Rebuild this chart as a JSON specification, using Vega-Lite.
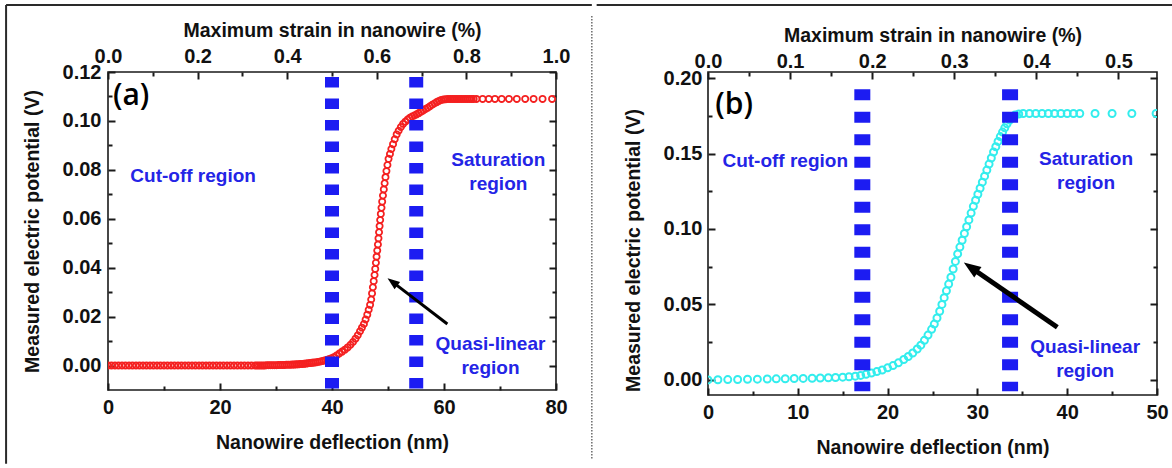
{
  "$schema": "https://vega.github.io/schema/vega-lite/v6.json",
  "background": "white",
  "padding": {"left": 4, "top": 3, "right": 0, "bottom": 0},
  "spacing": 0,
  "config": {
    "font": "Liberation Sans",
    "view": {"stroke": "#1a1a1a", "strokeWidth": 1.6},
    "axis": {
      "labelFont": "Liberation Sans", "labelFontWeight": "bold", "labelFontSize": 20, "labelColor": "#111111",
      "titleFont": "Liberation Sans", "titleFontWeight": "bold", "titleFontSize": 19.5, "titleColor": "#111111",
      "domain": false, "grid": false, "tickColor": "#1a1a1a", "tickWidth": 2, "tickSize": 7, "offset": -7,
      "labelFlush": false, "labelOverlap": false
    },
    "text": {"font": "Liberation Sans"}
  },
  "datasets": {
    "curveA": [
      {"defl":0,"volt":0},{"defl":0.62,"volt":0},{"defl":1.25,"volt":0},{"defl":1.87,"volt":0},{"defl":2.5,"volt":0},{"defl":3.12,"volt":0},{"defl":3.75,"volt":0},{"defl":4.37,"volt":0},{"defl":5,"volt":0},{"defl":5.62,"volt":0},{"defl":6.25,"volt":0},{"defl":6.87,"volt":0},{"defl":7.5,"volt":0},{"defl":8.12,"volt":0},{"defl":8.75,"volt":0},{"defl":9.37,"volt":0},{"defl":10,"volt":0},{"defl":10.62,"volt":0},{"defl":11.25,"volt":0},{"defl":11.87,"volt":0},{"defl":12.5,"volt":0},{"defl":13.12,"volt":0},{"defl":13.75,"volt":0},{"defl":14.37,"volt":0},{"defl":15,"volt":0},{"defl":15.62,"volt":0},{"defl":16.25,"volt":0},{"defl":16.87,"volt":0},{"defl":17.5,"volt":0},{"defl":18.12,"volt":0},{"defl":18.75,"volt":0},{"defl":19.37,"volt":0},{"defl":20,"volt":0},{"defl":20.62,"volt":0},{"defl":21.25,"volt":0},{"defl":21.87,"volt":0},{"defl":22.5,"volt":0},{"defl":23.12,"volt":0},{"defl":23.75,"volt":0},{"defl":24.37,"volt":0},{"defl":25,"volt":0},{"defl":25.62,"volt":0},{"defl":26.25,"volt":0},
      {"defl":26.6,"volt":0},{"defl":26.95,"volt":0},{"defl":27.3,"volt":0},{"defl":27.65,"volt":0},{"defl":28,"volt":0},{"defl":28.35,"volt":0.0001},{"defl":28.7,"volt":0.0001},{"defl":29.05,"volt":0.0001},{"defl":29.4,"volt":0.0001},{"defl":29.75,"volt":0.0001},{"defl":30.1,"volt":0.0001},{"defl":30.45,"volt":0.0002},{"defl":30.8,"volt":0.0002},{"defl":31.15,"volt":0.0002},{"defl":31.5,"volt":0.0002},{"defl":31.85,"volt":0.0003},{"defl":32.2,"volt":0.0003},{"defl":32.55,"volt":0.0003},{"defl":32.9,"volt":0.0004},{"defl":33.25,"volt":0.0004},{"defl":33.6,"volt":0.0005},{"defl":33.95,"volt":0.0005},{"defl":34.3,"volt":0.0006},{"defl":34.65,"volt":0.0006},{"defl":35,"volt":0.0007},{"defl":35.35,"volt":0.0008},{"defl":35.7,"volt":0.0009},{"defl":36.05,"volt":0.001},{"defl":36.4,"volt":0.0011},{"defl":36.75,"volt":0.0012},{"defl":37.1,"volt":0.0013},{"defl":37.45,"volt":0.0015},{"defl":37.8,"volt":0.0016},{"defl":38.15,"volt":0.0018},{"defl":38.5,"volt":0.002},{"defl":38.85,"volt":0.0022},{"defl":39.2,"volt":0.0024},{"defl":39.55,"volt":0.0027},{"defl":39.9,"volt":0.003},
      {"defl":40.3,"volt":0.0034},{"defl":40.8,"volt":0.0041},{"defl":41.3,"volt":0.0049},{"defl":41.8,"volt":0.0057},{"defl":42.3,"volt":0.0065},{"defl":42.8,"volt":0.0074},{"defl":43.3,"volt":0.0085},{"defl":43.75,"volt":0.0096},{"defl":44.2,"volt":0.011},{"defl":44.6,"volt":0.0124},{"defl":45,"volt":0.014},{"defl":45.35,"volt":0.0155},{"defl":45.7,"volt":0.017},{"defl":46,"volt":0.0188},{"defl":46.3,"volt":0.0208},{"defl":46.55,"volt":0.0228},{"defl":46.8,"volt":0.0248},
      {"defl":47,"volt":0.027},{"defl":47.15,"volt":0.0295},{"defl":47.3,"volt":0.032},{"defl":47.45,"volt":0.0345},{"defl":47.6,"volt":0.037},{"defl":47.72,"volt":0.0395},{"defl":47.84,"volt":0.042},{"defl":47.96,"volt":0.0445},{"defl":48.08,"volt":0.047},{"defl":48.2,"volt":0.0495},{"defl":48.3,"volt":0.052},{"defl":48.4,"volt":0.0545},{"defl":48.5,"volt":0.057},{"defl":48.6,"volt":0.0595},{"defl":48.72,"volt":0.062},{"defl":48.84,"volt":0.0645},{"defl":48.96,"volt":0.067},{"defl":49.1,"volt":0.0695},{"defl":49.25,"volt":0.072},{"defl":49.4,"volt":0.0745},{"defl":49.55,"volt":0.077},{"defl":49.72,"volt":0.0795},{"defl":49.9,"volt":0.082},{"defl":50.1,"volt":0.0845},{"defl":50.35,"volt":0.0865},{"defl":50.6,"volt":0.0885},{"defl":50.9,"volt":0.0905},{"defl":51.2,"volt":0.0925},{"defl":51.55,"volt":0.0945},{"defl":51.9,"volt":0.096},{"defl":52.3,"volt":0.0975},
      {"defl":52.7,"volt":0.0988},{"defl":53.1,"volt":0.0997},{"defl":53.5,"volt":0.1006},{"defl":53.9,"volt":0.1013},{"defl":54.3,"volt":0.1018},{"defl":54.7,"volt":0.1022},{"defl":55.1,"volt":0.1027},{"defl":55.5,"volt":0.1032},{"defl":55.9,"volt":0.1038},{"defl":56.3,"volt":0.1043},{"defl":56.7,"volt":0.1049},{"defl":57.1,"volt":0.1054},{"defl":57.5,"volt":0.106},{"defl":57.9,"volt":0.1066},{"defl":58.3,"volt":0.1071},{"defl":58.7,"volt":0.1077},{"defl":59.1,"volt":0.1082},{"defl":59.5,"volt":0.1086},{"defl":59.9,"volt":0.1088},{"defl":60.3,"volt":0.1089},{"defl":60.7,"volt":0.109},
      {"defl":61.1,"volt":0.109},{"defl":61.45,"volt":0.109},{"defl":61.8,"volt":0.109},{"defl":62.15,"volt":0.109},{"defl":62.5,"volt":0.109},{"defl":62.85,"volt":0.109},{"defl":63.2,"volt":0.109},{"defl":63.55,"volt":0.109},{"defl":63.9,"volt":0.109},{"defl":64.25,"volt":0.109},{"defl":64.6,"volt":0.109},{"defl":64.95,"volt":0.109},{"defl":65.3,"volt":0.109},
      {"defl":65.8,"volt":0.109},{"defl":66.9,"volt":0.109},{"defl":68,"volt":0.109},{"defl":69.1,"volt":0.109},{"defl":70.3,"volt":0.109},{"defl":71.6,"volt":0.109},{"defl":73,"volt":0.109},{"defl":74.5,"volt":0.109},{"defl":76,"volt":0.109},{"defl":77.6,"volt":0.109},{"defl":79.3,"volt":0.109}
    ],
    "curveB": [
      {"defl":0,"volt":0},{"defl":1.1,"volt":0.0001},{"defl":2.2,"volt":0.0002},{"defl":3.3,"volt":0.0003},{"defl":4.4,"volt":0.0004},{"defl":5.5,"volt":0.0005},{"defl":6.6,"volt":0.0006},{"defl":7.6,"volt":0.0007},{"defl":8.6,"volt":0.0008},{"defl":9.6,"volt":0.0009},{"defl":10.6,"volt":0.001},{"defl":11.6,"volt":0.0011},{"defl":12.5,"volt":0.0013},{"defl":13.4,"volt":0.0014},{"defl":14.2,"volt":0.0016},{"defl":15,"volt":0.0018},{"defl":15.7,"volt":0.0021},{"defl":16.4,"volt":0.0025},
      {"defl":17,"volt":0.003},{"defl":17.6,"volt":0.0037},{"defl":18.2,"volt":0.0045},{"defl":18.8,"volt":0.0055},{"defl":19.4,"volt":0.0066},{"defl":20,"volt":0.008},{"defl":20.6,"volt":0.0095},{"defl":21.2,"volt":0.0113},{"defl":21.8,"volt":0.0135},{"defl":22.3,"volt":0.0155},{"defl":22.8,"volt":0.0178},{"defl":23.3,"volt":0.0205},{"defl":23.7,"volt":0.023},{"defl":24.1,"volt":0.0262},{"defl":24.5,"volt":0.0297},{"defl":24.9,"volt":0.0335},{"defl":25.2,"volt":0.037},{"defl":25.5,"volt":0.041},{"defl":25.8,"volt":0.0455},{"defl":26.05,"volt":0.05},{"defl":26.3,"volt":0.0545},{"defl":26.55,"volt":0.059},{"defl":26.8,"volt":0.0635},{"defl":27.05,"volt":0.068},{"defl":27.3,"volt":0.0735},{"defl":27.55,"volt":0.0785},{"defl":27.8,"volt":0.0835},{"defl":28.05,"volt":0.088},{"defl":28.3,"volt":0.0925},{"defl":28.55,"volt":0.097},{"defl":28.8,"volt":0.1015},{"defl":29.05,"volt":0.106},{"defl":29.3,"volt":0.1105},{"defl":29.55,"volt":0.115},{"defl":29.8,"volt":0.119},{"defl":30.05,"volt":0.123},{"defl":30.3,"volt":0.127},{"defl":30.55,"volt":0.131},{"defl":30.8,"volt":0.135},{"defl":31.05,"volt":0.139},{"defl":31.3,"volt":0.143},{"defl":31.55,"volt":0.147},{"defl":31.8,"volt":0.151},{"defl":32.05,"volt":0.1545},{"defl":32.3,"volt":0.158},{"defl":32.55,"volt":0.1612},{"defl":32.8,"volt":0.1642},{"defl":33.05,"volt":0.167},{"defl":33.3,"volt":0.1697},{"defl":33.6,"volt":0.1722},{"defl":33.9,"volt":0.1742},{"defl":34.2,"volt":0.1755},{"defl":34.6,"volt":0.1762},
      {"defl":35.1,"volt":0.1765},{"defl":35.8,"volt":0.1765},{"defl":36.5,"volt":0.1765},{"defl":37.2,"volt":0.1765},{"defl":37.9,"volt":0.1765},{"defl":38.6,"volt":0.1765},{"defl":39.3,"volt":0.1765},{"defl":40,"volt":0.1765},{"defl":40.7,"volt":0.1765},{"defl":41.4,"volt":0.1765},{"defl":43.1,"volt":0.1765},{"defl":45,"volt":0.1765},{"defl":47.2,"volt":0.1765},{"defl":49.9,"volt":0.1765}
    ],
    "rulesA": [{"strain":0.5,"top":0.118,"bottom":-0.01},{"strain":0.688,"top":0.118,"bottom":-0.01}],
    "rulesB": [{"strain":0.188,"top":0.1925,"bottom":-0.0075},{"strain":0.368,"top":0.1925,"bottom":-0.0075}],
    "notesA": [
      {"defl":15.2,"volt":0.0752,"note":"Cut-off region"},
      {"defl":69.7,"volt":0.0816,"note":"Saturation\nregion"},
      {"defl":68.3,"volt":0.0064,"note":"Quasi-linear\nregion"}
    ],
    "notesB": [
      {"defl":8.6,"volt":0.141,"note":"Cut-off region"},
      {"defl":42.1,"volt":0.1424,"note":"Saturation\nregion"},
      {"defl":42.0,"volt":0.0179,"note":"Quasi-linear\nregion"}
    ],
    "tagA": [{"strain":0.011,"volt":0.1065,"tag":"(a)"}],
    "tagB": [{"strain":0.0088,"volt":0.176,"tag":"(b)"}],
    "arrowA": [{"x1":60.6,"y1":0.017,"x2":50.79,"y2":0.0342}],
    "arrowB": [{"x1":38.9,"y1":0.0349,"x2":29.27,"y2":0.0745}],
    "borderA": [
      {"x1":-18.2,"x2":-18.2,"y1":0.1474,"y2":-0.0402},
      {"x1":-18.2,"x2":86.4,"y1":0.1474,"y2":0.1474}
    ],
    "dividerA": [{"x1":86.4,"x2":86.4,"y1":0.1429,"y2":-0.0381}],
    "borderB": [{"x1":-12.4,"x2":51.7,"y1":0.2484,"y2":0.2484}]
  },
  "hconcat": [
    {
      "width": 448, "height": 318,
      "resolve": {"scale": {"x": "independent"}, "axis": {"x": "independent", "y": "independent"}},
      "layer": [
        {
          "data": {"name": "curveA"},
          "mark": {"type": "point", "shape": "circle", "filled": false, "stroke": "#f42020", "strokeWidth": 1.8, "size": 38, "opacity": 1, "clip": true},
          "encoding": {
            "x": {"field": "defl", "type": "quantitative", "scale": {"domain": [0, 80], "nice": false, "zero": false},
              "axis": {"orient": "bottom", "title": "Nanowire deflection (nm)", "values": [0,20,40,60,80], "labelPadding": 7, "titlePadding": 16}},
            "y": {"field": "volt", "type": "quantitative", "scale": {"domain": [-0.01, 0.12], "nice": false, "zero": false},
              "axis": {"orient": "left", "title": "Measured electric potential (V)", "values": [0,0.02,0.04,0.06,0.08,0.1,0.12], "format": ".2f", "labelPadding": 7, "titlePadding": 20}}
          }
        },
        {
          "data": {"name": "rulesA"},
          "mark": {"type": "rule", "stroke": "#1c1cf2", "strokeWidth": 14, "strokeDash": [10.7, 10.8]},
          "encoding": {
            "x": {"field": "strain", "type": "quantitative", "scale": {"domain": [0, 1], "nice": false, "zero": false},
              "axis": {"orient": "top", "title": "Maximum strain in nanowire (%)", "values": [0,0.2,0.4,0.6,0.8,1], "format": ".1f", "labelPadding": 6, "titlePadding": 6}},
            "y": {"field": "top", "type": "quantitative", "scale": {"domain": [-0.01, 0.12], "nice": false, "zero": false},
              "axis": {"orient": "right", "labels": false, "title": null, "values": [0,0.02,0.04,0.06,0.08,0.1,0.12]}},
            "y2": {"field": "bottom"}
          }
        },
        {
          "data": {"name": "notesA"},
          "mark": {"type": "text", "align": "center", "baseline": "alphabetic", "fontSize": 19, "fontWeight": "bold", "color": "#2424e6", "lineBreak": "\n", "lineHeight": 24},
          "encoding": {
            "x": {"field": "defl", "type": "quantitative", "scale": {"domain": [0, 80], "nice": false, "zero": false},
              "axis": {"orient": "bottom", "labels": false, "title": null, "values": [10,30,50,70], "tickSize": 4, "offset": -4}},
            "y": {"field": "volt", "type": "quantitative", "scale": {"domain": [-0.01, 0.12], "nice": false, "zero": false},
              "axis": {"orient": "left", "labels": false, "title": null, "values": [0.01,0.03,0.05,0.07,0.09,0.11], "tickSize": 4, "offset": -4}},
            "text": {"field": "note"}
          }
        },
        {
          "data": {"name": "tagA"},
          "mark": {"type": "text", "align": "left", "baseline": "alphabetic", "fontSize": 30, "fontWeight": 600, "font": "Open Sans", "color": "#000000"},
          "encoding": {
            "x": {"field": "strain", "type": "quantitative", "scale": {"domain": [0, 1], "nice": false, "zero": false},
              "axis": {"orient": "top", "labels": false, "title": null, "values": [0.1,0.3,0.5,0.7,0.9], "tickSize": 4, "offset": -4}},
            "y": {"field": "volt", "type": "quantitative", "scale": {"domain": [-0.01, 0.12], "nice": false, "zero": false},
              "axis": {"orient": "right", "labels": false, "title": null, "values": [0.01,0.03,0.05,0.07,0.09,0.11], "tickSize": 4, "offset": -4}},
            "text": {"field": "tag"}
          }
        },
        {
          "data": {"name": "arrowA"},
          "mark": {"type": "rule", "stroke": "#000000", "strokeWidth": 3},
          "encoding": {
            "x": {"field": "x1", "type": "quantitative", "scale": {"domain": [0, 80], "nice": false, "zero": false}, "axis": null},
            "y": {"field": "y1", "type": "quantitative", "scale": {"domain": [-0.01, 0.12], "nice": false, "zero": false}, "axis": null},
            "x2": {"field": "x2"},
            "y2": {"field": "y2"}
          }
        },
        {
          "data": {"name": "arrowA"},
          "mark": {"type": "point", "shape": "M0,-1L-0.75,1L0.75,1Z", "filled": true, "fill": "#000000", "stroke": null, "size": 150, "angle": 307, "opacity": 1},
          "encoding": {
            "x": {"field": "x2", "type": "quantitative", "scale": {"domain": [0, 80], "nice": false, "zero": false}, "axis": null},
            "y": {"field": "y2", "type": "quantitative", "scale": {"domain": [-0.01, 0.12], "nice": false, "zero": false}, "axis": null}
          }
        },
        {
          "data": {"name": "borderA"},
          "mark": {"type": "rule", "stroke": "#2a2a2a", "strokeWidth": 2, "clip": false},
          "encoding": {
            "x": {"field": "x1", "type": "quantitative", "scale": {"domain": [0, 80], "nice": false, "zero": false}, "axis": null},
            "y": {"field": "y1", "type": "quantitative", "scale": {"domain": [-0.01, 0.12], "nice": false, "zero": false}, "axis": null},
            "x2": {"field": "x2"},
            "y2": {"field": "y2"}
          }
        },
        {
          "data": {"name": "dividerA"},
          "mark": {"type": "rule", "stroke": "#555555", "strokeWidth": 1.3, "strokeDash": [1.5, 1.5], "clip": false},
          "encoding": {
            "x": {"field": "x1", "type": "quantitative", "scale": {"domain": [0, 80], "nice": false, "zero": false}, "axis": null},
            "y": {"field": "y1", "type": "quantitative", "scale": {"domain": [-0.01, 0.12], "nice": false, "zero": false}, "axis": null},
            "x2": {"field": "x2"},
            "y2": {"field": "y2"}
          }
        }
      ]
    },
    {
      "width": 449, "height": 323,
      "resolve": {"scale": {"x": "independent"}, "axis": {"x": "independent", "y": "independent"}},
      "layer": [
        {
          "data": {"name": "curveB"},
          "mark": {"type": "point", "shape": "circle", "filled": false, "stroke": "#33eded", "strokeWidth": 2, "size": 49, "opacity": 1, "clip": true},
          "encoding": {
            "x": {"field": "defl", "type": "quantitative", "scale": {"domain": [0, 50], "nice": false, "zero": false},
              "axis": {"orient": "bottom", "title": "Nanowire deflection (nm)", "values": [0,10,20,30,40,50], "labelPadding": 7, "titlePadding": 16}},
            "y": {"field": "volt", "type": "quantitative", "scale": {"domain": [-0.01, 0.204], "nice": false, "zero": false},
              "axis": {"orient": "left", "title": "Measured electric potential (V)", "values": [0,0.05,0.1,0.15,0.2], "format": ".2f", "labelPadding": 6, "titlePadding": 20, "titleY": 178}}
          }
        },
        {
          "data": {"name": "rulesB"},
          "mark": {"type": "rule", "stroke": "#1c1cf2", "strokeWidth": 16, "strokeDash": [11, 11.5]},
          "encoding": {
            "x": {"field": "strain", "type": "quantitative", "scale": {"domain": [0, 0.547], "nice": false, "zero": false},
              "axis": {"orient": "top", "title": "Maximum strain in nanowire (%)", "values": [0,0.1,0.2,0.3,0.4,0.5], "format": ".1f", "labelPadding": 1, "titlePadding": 6}},
            "y": {"field": "top", "type": "quantitative", "scale": {"domain": [-0.01, 0.204], "nice": false, "zero": false},
              "axis": {"orient": "right", "labels": false, "title": null, "values": [0,0.05,0.1,0.15,0.2]}},
            "y2": {"field": "bottom"}
          }
        },
        {
          "data": {"name": "notesB"},
          "mark": {"type": "text", "align": "center", "baseline": "alphabetic", "fontSize": 19, "fontWeight": "bold", "color": "#2424e6", "lineBreak": "\n", "lineHeight": 24.5},
          "encoding": {
            "x": {"field": "defl", "type": "quantitative", "scale": {"domain": [0, 50], "nice": false, "zero": false},
              "axis": {"orient": "bottom", "labels": false, "title": null, "values": [5,15,25,35,45], "tickSize": 4, "offset": -4}},
            "y": {"field": "volt", "type": "quantitative", "scale": {"domain": [-0.01, 0.204], "nice": false, "zero": false},
              "axis": {"orient": "left", "labels": false, "title": null, "values": [0.025,0.075,0.125,0.175], "tickSize": 4, "offset": -4}},
            "text": {"field": "note"}
          }
        },
        {
          "data": {"name": "tagB"},
          "mark": {"type": "text", "align": "left", "baseline": "alphabetic", "fontSize": 30, "fontWeight": 600, "font": "Open Sans", "color": "#000000"},
          "encoding": {
            "x": {"field": "strain", "type": "quantitative", "scale": {"domain": [0, 0.547], "nice": false, "zero": false},
              "axis": {"orient": "top", "labels": false, "title": null, "values": [0.05,0.15,0.25,0.35,0.45], "tickSize": 4, "offset": -4}},
            "y": {"field": "volt", "type": "quantitative", "scale": {"domain": [-0.01, 0.204], "nice": false, "zero": false},
              "axis": {"orient": "right", "labels": false, "title": null, "values": [0.025,0.075,0.125,0.175], "tickSize": 4, "offset": -4}},
            "text": {"field": "tag"}
          }
        },
        {
          "data": {"name": "arrowB"},
          "mark": {"type": "rule", "stroke": "#000000", "strokeWidth": 5},
          "encoding": {
            "x": {"field": "x1", "type": "quantitative", "scale": {"domain": [0, 50], "nice": false, "zero": false}, "axis": null},
            "y": {"field": "y1", "type": "quantitative", "scale": {"domain": [-0.01, 0.204], "nice": false, "zero": false}, "axis": null},
            "x2": {"field": "x2"},
            "y2": {"field": "y2"}
          }
        },
        {
          "data": {"name": "arrowB"},
          "mark": {"type": "point", "shape": "M0,-1L-0.75,1L0.75,1Z", "filled": true, "fill": "#000000", "stroke": null, "size": 290, "angle": 304.7, "opacity": 1},
          "encoding": {
            "x": {"field": "x2", "type": "quantitative", "scale": {"domain": [0, 50], "nice": false, "zero": false}, "axis": null},
            "y": {"field": "y2", "type": "quantitative", "scale": {"domain": [-0.01, 0.204], "nice": false, "zero": false}, "axis": null}
          }
        },
        {
          "data": {"name": "borderB"},
          "mark": {"type": "rule", "stroke": "#2a2a2a", "strokeWidth": 2, "clip": false},
          "encoding": {
            "x": {"field": "x1", "type": "quantitative", "scale": {"domain": [0, 50], "nice": false, "zero": false}, "axis": null},
            "y": {"field": "y1", "type": "quantitative", "scale": {"domain": [-0.01, 0.204], "nice": false, "zero": false}, "axis": null},
            "x2": {"field": "x2"},
            "y2": {"field": "y2"}
          }
        }
      ]
    }
  ]
}
